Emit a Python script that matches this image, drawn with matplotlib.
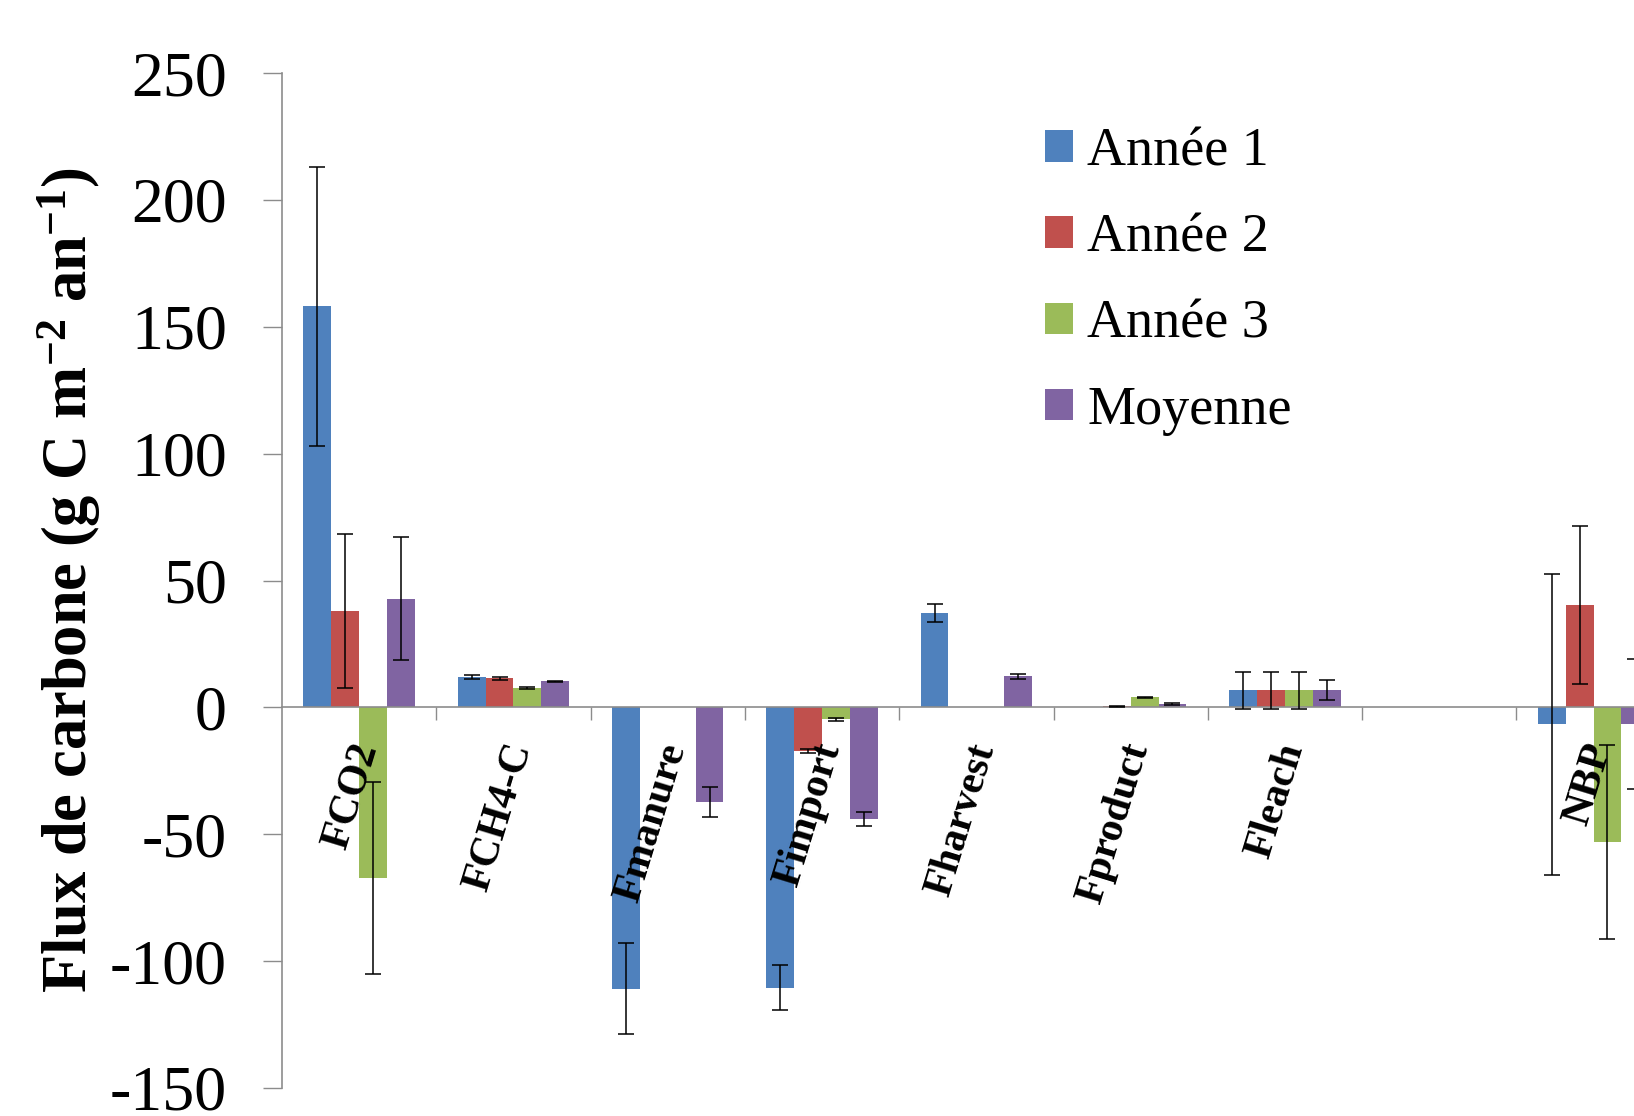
import numpy as np
import matplotlib
matplotlib.use("Agg")
import matplotlib.pyplot as plt
from matplotlib.transforms import offset_copy

nan = np.nan

# ---- data ----
categories = ["FCO2", "FCH4-C", "Fmanure", "Fimport", "Fharvest", "Fproduct", "Fleach", "", "NBP"]
series_names = ["Année 1", "Année 2", "Année 3", "Moyenne"]

annee1 = [158.0, 11.8, -110.8, -110.5, 37.2, nan, 6.8, nan, -6.7]
annee1_err = [55.0, 0.8, 18.0, 8.8, 3.6, nan, 7.3, nan, 59.3]
annee2 = [37.9, 11.4, nan, -17.2, nan, 0.4, 6.8, nan, 40.2]
annee2_err = [30.3, 0.5, nan, 0.8, nan, 0.3, 7.3, nan, 31.1]
annee3 = [-67.2, 7.6, nan, -4.6, nan, 3.9, 6.8, nan, -53.1]
annee3_err = [37.7, 0.5, nan, 0.6, nan, 0.3, 7.3, nan, 38.1]
moyenne = [42.9, 10.2, -37.2, -44.1, 12.2, 1.4, 6.8, nan, -6.5]
moyenne_err = [24.4, 0.3, 5.9, 2.8, 1.1, 0.3, 4.0, nan, 25.5]

yticks = [-150, -100, -50, 0, 50, 100, 150, 200, 250]
ylabel = r"Flux de carbone (g C m$^{\mathbf{-2}}$ an$^{\mathbf{-1}}$)"

colors = ["#4F81BD", "#C0504D", "#9BBB59", "#8064A2"]

# ---- style ----
plt.rcParams["font.family"] = ["Liberation Serif", "DejaVu Serif"]
plt.rcParams["mathtext.fontset"] = "custom"
plt.rcParams["mathtext.rm"] = "Liberation Serif"
plt.rcParams["mathtext.bf"] = "Liberation Serif:bold"
plt.rcParams["mathtext.it"] = "Liberation Serif:italic"

W, H = 1634, 1116
fig = plt.figure(figsize=(W / 100, H / 100), dpi=100)

ax_left, ax_right = 282, 282 + 9 * 154.3
ax_top, ax_bot = 73, 1088
ax = fig.add_axes([ax_left / W, 1 - ax_bot / H, (ax_right - ax_left) / W, (ax_bot - ax_top) / H])

n = len(categories)
x = np.arange(n) + 0.5
w = 0.1805
all_vals = [annee1, annee2, annee3, moyenne]
all_errs = [annee1_err, annee2_err, annee3_err, moyenne_err]

handles = []
for k, (vals, errs) in enumerate(zip(all_vals, all_errs)):
    xs = x + (k - 1.5) * w
    b = ax.bar(xs, vals, width=w, color=colors[k], edgecolor="none", label=series_names[k], zorder=2)
    handles.append(b)
    vals_a = np.array(vals, dtype=float)
    errs_a = np.array(errs, dtype=float)
    m = ~np.isnan(vals_a)
    ax.errorbar(xs[m], vals_a[m], yerr=errs_a[m], fmt="none", ecolor="#000000",
                elinewidth=1.1, capsize=6, capthick=1.1, zorder=3)

ax.set_xlim(0, n)
ax.set_ylim(-150, 250)

# axes styling
axis_col = "#8C8C8C"
for s in ["top", "right"]:
    ax.spines[s].set_visible(False)
ax.spines["left"].set_color(axis_col)
ax.spines["left"].set_linewidth(1.2)
ax.spines["bottom"].set_position(("data", 0))
ax.spines["bottom"].set_color(axis_col)
ax.spines["bottom"].set_linewidth(1.2)

ax.set_yticks(yticks)
ax.set_yticklabels([str(t) for t in yticks])
ax.tick_params(axis="y", direction="out", length=13.7, width=1.0, color=axis_col,
               labelsize=46, pad=26)
ax.set_xticks(np.arange(1, n + 1))
ax.set_xticklabels([])
ax.tick_params(axis="x", direction="out", length=9.5, width=1.0, color=axis_col)

# category labels
for i, lab in enumerate(categories):
    if not lab:
        continue
    tr = offset_copy(ax.transData, fig=fig, x=-7.4, y=-22.7, units="points")
    ax.text(x[i], 0, lab, transform=tr, rotation=73, rotation_mode="anchor",
            ha="right", va="top", fontsize=30, fontweight="bold", zorder=4)

ax.set_ylabel(ylabel, fontsize=45, fontweight="bold")
ax.yaxis.set_label_coords(-0.129, 0.5)

leg = fig.legend(handles=handles, labels=series_names, loc="upper left",
                 bbox_to_anchor=(1045 / W, 1 - 126.5 / H), bbox_transform=fig.transFigure,
                 frameon=False, fontsize=39, borderpad=0, borderaxespad=0,
                 handlelength=0.52, handleheight=0.52, handletextpad=0.26,
                 labelspacing=0.66)

fig.savefig("out.png", dpi=100)
